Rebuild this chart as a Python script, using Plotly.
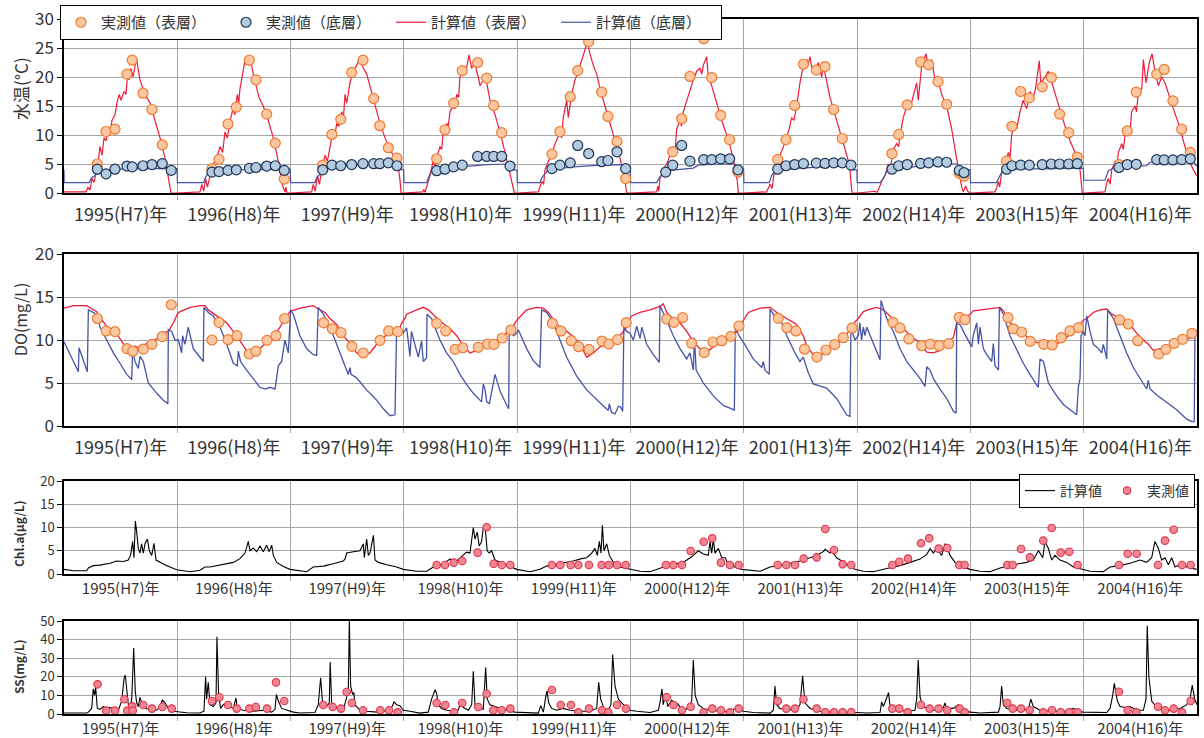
import plotly.graph_objects as go

JP = "Noto Sans CJK JP"
W, H = 1204, 738

# time values below are months elapsed since 1 January 1995
years = list(range(1995, 2005))
year_labels = ["1995(H7)年", "1996(H8)年", "1997(H9)年", "1998(H10)年", "1999(H11)年",
               "2000(H12)年", "2001(H13)年", "2002(H14)年", "2003(H15)年", "2004(H16)年"]

# ---------------- water temperature ----------------
temp_top_obs = [
    (3.53, 5.0), (4.45, 10.6), (5.40, 11.0), (6.67, 20.5), (7.23, 22.9), (8.37, 17.2), (9.32, 14.4), (10.41, 8.3),
    (15.67, 4.2), (16.42, 5.8), (17.37, 11.9), (18.25, 14.8), (19.63, 22.9), (20.33, 19.5), (21.47, 13.6), (22.38, 8.6), (23.33, 2.4),
    (27.40, 4.8), (28.38, 10.1), (29.31, 12.7), (30.47, 20.8), (31.67, 22.9), (32.80, 16.3), (33.44, 11.6), (34.35, 7.8), (35.27, 6.0),
    (39.47, 5.9), (40.35, 10.9), (41.27, 15.5), (42.18, 21.1), (43.81, 22.5), (44.77, 19.8), (45.51, 15.1), (46.36, 10.4),
    (51.68, 6.7), (52.53, 10.6), (53.62, 16.6), (54.41, 21.1), (55.57, 26.1), (56.95, 17.4), (57.61, 13.2), (58.57, 8.9), (59.49, 2.5),
    (64.47, 7.1), (65.42, 12.8), (66.30, 20.1), (67.75, 26.6), (68.60, 19.9), (69.55, 13.4), (70.50, 9.2), (71.38, 3.6),
    (75.59, 5.8), (76.47, 9.2), (77.39, 15.1), (78.32, 22.2), (79.68, 21.2), (80.60, 21.8), (81.52, 14.4), (82.43, 9.4),
    (87.69, 6.8), (88.40, 10.1), (89.31, 15.2), (90.73, 22.6), (91.58, 22.1), (92.57, 19.2), (93.49, 15.3), (94.82, 3.4), (95.32, 2.9),
    (99.84, 5.5), (100.40, 11.5), (101.32, 17.5), (102.24, 16.4), (103.61, 18.3), (104.57, 19.9), (105.45, 13.6), (106.41, 10.4), (107.32, 6.2),
    (111.73, 4.9), (112.61, 10.7), (113.57, 17.4), (115.73, 20.5), (116.53, 21.3), (117.45, 15.9), (118.38, 11.0), (119.29, 7.0),
]
temp_bot_obs = [
    (3.53, 4.1), (4.45, 3.3), (5.40, 4.1), (6.67, 4.65), (7.23, 4.5), (8.37, 4.7), (9.32, 4.9), (10.41, 5.05), (11.36, 3.9),
    (15.67, 3.6), (16.42, 3.7), (17.37, 3.9), (18.25, 4.0), (19.63, 4.25), (20.33, 4.4), (21.47, 4.65), (22.38, 4.7), (23.33, 3.9),
    (27.40, 4.0), (28.38, 4.8), (29.31, 4.7), (30.47, 4.9), (31.67, 5.05), (32.80, 5.05), (33.44, 5.05), (34.35, 5.2), (35.27, 4.7),
    (39.47, 3.85), (40.35, 4.1), (41.27, 4.5), (42.18, 4.8), (43.81, 6.3), (44.77, 6.3), (45.51, 6.3), (46.36, 6.3), (47.24, 4.65),
    (51.68, 4.2), (52.53, 4.8), (53.62, 5.2), (54.41, 8.2), (55.57, 6.8), (56.95, 5.4), (57.61, 5.6), (58.57, 7.1), (59.49, 4.2),
    (63.73, 3.6), (64.47, 4.8), (65.42, 8.2), (66.30, 5.5), (67.75, 5.75), (68.60, 5.75), (69.55, 5.9), (70.50, 5.9), (71.38, 4.0),
    (75.59, 4.1), (76.47, 4.7), (77.39, 4.9), (78.32, 5.05), (79.68, 5.15), (80.60, 5.1), (81.52, 5.2), (82.43, 5.2), (83.35, 4.8),
    (87.69, 4.1), (88.40, 4.7), (89.31, 4.9), (90.73, 5.1), (91.58, 5.2), (92.57, 5.35), (93.49, 5.3), (94.82, 3.9), (95.32, 3.5),
    (99.84, 4.1), (100.40, 4.7), (101.32, 4.8), (102.24, 4.8), (103.61, 4.9), (104.57, 5.0), (105.45, 5.0), (106.41, 5.0), (107.32, 5.05),
    (111.73, 4.4), (112.61, 4.9), (113.57, 4.95), (115.73, 5.75), (116.53, 5.7), (117.45, 5.7), (118.38, 5.75), (119.29, 5.9),
]
temp_top_calc = [
    (0, 0.2), (2.33, 0.2), (2.54, 1), (2.75, 0.5), (2.97, 2.5), (3.18, 1.8), (3.39, 3.5), (3.6, 5), (3.81, 8), (4.03, 6.5),
    (4.24, 9.5), (4.45, 9), (4.66, 11), (4.87, 10), (5.08, 12.5), (5.4, 13.5), (5.61, 15.5), (5.83, 17), (6.04, 16), (6.36, 17.5),
    (6.57, 17), (6.73, 20.5), (6.89, 19.5), (7.1, 21.5), (7.31, 20), (7.52, 22), (7.68, 23.2), (7.84, 21.5), (8.05, 19.5),
    (8.26, 18.5), (8.58, 17), (9.11, 15.5), (9.64, 12.5), (10.17, 9.5), (10.7, 6), (11.02, 3), (11.28, 1), (11.33, 0), (12.0, 0),
    (14.4, 0.2), (14.6, 1.5), (14.8, 0.3), (15.0, 2.5), (15.2, 1), (15.46, 3), (15.8, 5), (16.2, 6), (16.52, 8), (16.8, 7),
    (17.05, 10.5), (17.3, 9.5), (17.6, 12.5), (17.9, 14.5), (18.1, 13.5), (18.36, 17), (18.5, 15.5), (18.64, 18), (19.0, 21),
    (19.25, 23.5), (19.5, 22), (19.8, 22.5), (20.05, 20.5), (20.4, 18), (20.65, 16.5), (21.1, 15), (21.64, 12.5), (22.17, 9.5),
    (22.5, 7), (22.88, 4), (23.1, 1.5), (23.4, 0.2), (23.5, 1), (23.6, 0), (24, 0),
    (26.23, 0.2), (26.4, 1.5), (26.6, 0.3), (26.85, 3), (27.05, 1.5), (27.3, 4), (27.64, 6.5), (27.9, 5.5), (28.17, 8), (28.52, 11),
    (28.7, 10), (28.88, 12), (29.1, 11.5), (29.41, 14), (29.6, 13), (29.76, 17), (29.94, 15.5), (30.29, 19), (30.64, 21), (31.0, 22),
    (31.35, 23.5), (31.7, 21.5), (32.06, 20.5), (32.41, 18.5), (32.94, 15.5), (33.47, 12), (34.0, 9.5), (34.53, 7.5), (35.06, 6),
    (35.41, 4.5), (35.6, 2), (35.7, 0), (36, 0),
    (38.0, 0.2), (38.1, 0.6), (38.24, 0.1), (38.4, 1), (38.6, 2), (38.76, 3), (39.1, 5.5), (39.3, 4.5), (39.47, 6), (39.82, 8),
    (40.0, 7.5), (40.17, 10.5), (40.35, 10), (40.52, 12), (40.7, 11.5), (40.88, 14), (41.23, 15), (41.4, 14.5), (41.59, 17),
    (41.8, 16.5), (41.94, 20), (42.29, 21), (42.5, 20.5), (42.65, 22), (42.9, 23.8), (43.18, 21.5), (43.53, 22.5), (43.7, 21),
    (43.88, 20), (44.06, 18.5), (44.41, 19.5), (44.77, 19), (45.12, 16), (45.65, 13.5), (46.18, 10.5), (46.71, 7), (47.24, 3),
    (47.6, 0.5), (47.7, 0), (48, 0),
    (50.24, 0.2), (50.4, 1), (50.6, 2), (50.8, 1.5), (50.94, 4), (51.3, 5.5), (51.65, 6.5), (51.9, 8), (52.18, 9), (52.53, 10.5),
    (52.7, 9.5), (52.88, 13), (53.24, 16), (53.41, 13), (53.77, 17), (54.12, 19.5), (54.47, 21), (54.83, 23), (55.18, 25),
    (55.43, 26), (55.71, 24), (56.06, 22), (56.42, 20.5), (56.77, 18), (57.3, 15), (57.83, 12), (58.36, 9), (58.89, 6),
    (59.42, 2), (59.6, 0), (60, 0),
    (62.77, 0.2), (62.9, 1.2), (63.0, 0.3), (63.12, 2.5), (63.47, 4), (63.83, 5), (64.18, 6.5), (64.53, 8), (64.7, 7), (64.89, 11),
    (65.24, 12.5), (65.4, 11.5), (65.59, 14), (65.95, 16), (66.3, 18), (66.65, 19.5), (67.01, 21), (67.36, 21.5), (67.55, 20.5),
    (67.71, 22), (68.07, 23.5), (68.24, 20), (68.6, 18.5), (69.13, 15.5), (69.66, 12.5), (70.19, 10), (70.72, 7), (71.07, 4.5),
    (71.31, 2), (71.42, 0), (72, 0),
    (74.42, 0.2), (74.6, 0.8), (74.78, 1.5), (75.0, 0.8), (75.3, 4.5), (75.6, 5), (75.83, 6.5), (76.2, 8), (76.54, 9.5), (76.8, 11),
    (77.07, 13), (77.3, 12.5), (77.6, 15), (77.95, 19), (78.3, 22), (78.66, 23), (78.8, 22), (79.01, 23.5), (79.2, 21.5),
    (79.36, 21.5), (79.6, 20.5), (79.89, 22.5), (80.1, 21), (80.25, 20), (80.42, 22), (80.77, 19.5), (81.13, 16.5),
    (81.66, 13.5), (82.19, 10.5), (82.72, 7.5), (83.18, 5), (83.43, 0.5), (83.5, 0), (84, 0),
    (85.9, 0.3), (86.1, 0.1), (86.25, 0.5), (86.6, 2), (86.95, 3), (87.3, 5), (87.5, 4), (87.83, 7.5), (88.19, 8.5), (88.4, 8),
    (88.54, 10), (88.9, 13), (89.25, 15), (89.6, 14.5), (89.95, 17), (90.31, 19), (90.48, 16), (90.84, 22), (91.3, 24),
    (91.54, 21.5), (91.9, 23), (92.25, 19.5), (92.5, 20), (92.96, 17), (93.49, 15), (94.02, 11), (94.37, 7.5), (94.72, 4),
    (95.08, 1), (95.25, 0.2), (95.5, 1.2), (95.7, 0.3), (96, 0),
    (98.6, 0.2), (98.8, 1), (98.96, 2), (99.1, 1), (99.31, 3.5), (99.67, 5), (100.02, 7), (100.2, 6), (100.37, 10), (100.72, 12),
    (100.9, 11), (101.25, 14), (101.6, 16), (101.96, 14.5), (102.31, 17.5), (102.66, 16.5), (102.9, 18), (103.09, 20),
    (103.3, 22.8), (103.45, 19), (103.9, 20), (104.25, 21), (104.61, 19), (104.96, 17), (105.49, 14), (106.02, 11.5),
    (106.55, 9), (107.08, 7), (107.61, 4), (107.79, 0.5), (107.85, 0), (108, 0),
    (110.26, 0.2), (110.4, 1.5), (110.6, 2.5), (110.8, 1.5), (110.97, 4), (111.32, 5.5), (111.5, 4.5), (111.67, 7), (112.03, 8.5),
    (112.2, 7.5), (112.38, 10), (112.73, 11), (112.9, 10.5), (113.08, 14), (113.44, 15), (113.6, 14), (113.79, 17.5),
    (114.15, 18), (114.32, 23), (114.6, 19), (114.95, 22.5), (115.24, 24), (115.55, 21), (115.91, 18.5), (116.26, 20),
    (116.61, 19), (116.97, 17), (117.5, 14.5), (118.03, 12), (118.55, 9), (119.08, 6), (119.61, 4), (119.96, 3),
]
temp_bot_calc = [
    (0, 4.0), (0.02, 1.8), (2.68, 1.8), (2.9, 2.6), (3.28, 3.0), (3.8, 3.7), (4.34, 4.0), (5.58, 4.1), (9.1, 4.2), (11.98, 4.2),
    (12.01, 1.8), (14.8, 1.8), (14.93, 2.5), (15.28, 3.5), (15.81, 3.9), (17.9, 4.0), (23.95, 4.1),
    (24.01, 1.8), (26.58, 1.8), (26.76, 2.6), (27.28, 3.5), (27.99, 4.2), (30.29, 4.8), (33.82, 5.1), (35.6, 5.1), (35.77, 4.0), (35.98, 4.0),
    (36.01, 1.8), (38.41, 1.8), (38.58, 2.5), (38.76, 3.3), (39.12, 4.0), (40.17, 4.3), (42.65, 4.6), (44.77, 4.9), (47.24, 5.0), (47.6, 4.0), (47.98, 4.0),
    (48.01, 1.8), (50.41, 1.8), (50.6, 2.6), (51.12, 3.7), (51.82, 4.1), (53.94, 4.5), (56.77, 4.8), (59.24, 4.9), (59.6, 4.1), (59.98, 4.1),
    (60.01, 1.8), (62.77, 1.8), (63.12, 2.8), (63.65, 3.5), (64.18, 3.9), (66.65, 4.3), (67.18, 4.8), (69.48, 5.0), (71.07, 5.0), (71.42, 4.1), (71.98, 4.1),
    (72.01, 1.8), (74.7, 1.8), (74.95, 3.0), (75.3, 3.8), (76.18, 4.0), (77.95, 4.3), (81.48, 4.6), (83.25, 4.7), (83.4, 4.0), (83.98, 4.0),
    (84.01, 1.8), (86.43, 1.8), (86.78, 2.5), (87.14, 3.7), (87.84, 4.0), (90.31, 4.6), (93.49, 5.0), (94.55, 5.0), (94.9, 4.3), (95.98, 4.0),
    (96.01, 1.8), (98.78, 1.8), (99.13, 3.0), (99.49, 4.0), (100.19, 4.1), (107.61, 4.3), (107.96, 4.3),
    (108.01, 2.2), (110.26, 2.2), (110.6, 3.8), (111.14, 4.3), (114.67, 4.7), (115.0, 5.3), (119.61, 5.5), (119.96, 4.6),
]

# ---------------- dissolved oxygen ----------------
do_obs = [
    (3.53, 12.5), (4.47, 11.05), (5.40, 10.97), (6.67, 9.0), (7.28, 8.7), (8.40, 8.95), (9.32, 9.5), (10.41, 10.4), (11.36, 14.1),
    (15.67, 10.0), (16.42, 12.05), (17.37, 10.04), (18.32, 10.5), (19.63, 8.37), (20.33, 8.7), (21.50, 9.96), (22.45, 10.5), (23.37, 12.5),
    (27.50, 12.0), (28.42, 11.3), (29.34, 10.85), (30.50, 9.26), (31.70, 8.49), (33.47, 9.96), (34.39, 11.05), (35.34, 10.97),
    (39.47, 11.94), (40.43, 11.05), (41.41, 8.91), (42.23, 9.1), (43.88, 9.15), (44.87, 9.53), (45.54, 9.5), (46.42, 10.23), (47.34, 11.16),
    (51.72, 11.94), (52.64, 11.05), (53.73, 9.92), (54.51, 9.22), (55.60, 8.91), (56.98, 9.88), (57.72, 9.53), (58.64, 10.04), (59.55, 12.02),
    (63.83, 12.44), (64.61, 12.05), (65.53, 12.6), (66.48, 9.61), (67.81, 8.53), (68.74, 9.77), (69.66, 9.92), (70.64, 10.43), (71.49, 11.63),
    (75.65, 12.52), (76.57, 11.43), (77.53, 11.05), (78.43, 8.93), (79.75, 8.02), (80.70, 8.84), (81.63, 9.46), (82.54, 10.27), (83.46, 11.4),
    (87.80, 12.05), (88.54, 11.4), (89.49, 10.12), (90.84, 9.34), (91.75, 9.53), (92.70, 9.34), (93.70, 9.57), (94.82, 12.64), (95.42, 12.36),
    (99.98, 12.6), (100.54, 11.3), (101.43, 10.93), (102.34, 9.84), (103.76, 9.5), (104.67, 9.42), (105.62, 10.27), (106.54, 11.05), (107.46, 11.43),
    (111.80, 12.33), (112.72, 11.86), (113.72, 9.92), (115.94, 8.37), (116.71, 8.91), (117.59, 9.61), (118.48, 10.08), (119.47, 10.78),
]
do_top_calc = [
    (0, 13.7), (0.99, 14.0), (2.4, 14.0), (2.75, 13.8), (3.46, 13.3), (3.81, 12.6), (4.52, 11.6), (5.4, 11.0), (5.93, 10.2),
    (6.46, 9.3), (7.17, 8.8), (7.52, 9.3), (8.05, 9.0), (8.76, 9.6), (9.46, 9.9), (10.17, 10.4), (10.7, 10.9), (11.05, 11.0),
    (11.6, 12.0), (12.0, 13.0),
    (12.29, 13.3), (13.35, 13.8), (14.4, 14.0), (14.93, 14.0), (15.28, 13.5), (15.81, 13.1), (16.52, 12.5), (17.23, 12.0),
    (17.93, 11.0), (18.46, 10.2), (18.99, 9.3), (19.52, 8.5), (20.05, 8.6), (20.76, 9.0), (21.46, 9.8), (22.17, 10.4),
    (22.88, 11.5), (23.4, 12.5), (23.94, 13.3),
    (24.11, 13.4), (24.99, 13.7), (26.4, 14.0), (26.93, 13.6), (27.64, 13.2), (28.17, 12.5), (28.88, 11.8), (29.58, 10.5),
    (30.29, 9.6), (30.99, 8.5), (31.7, 8.2), (32.41, 8.5), (33.12, 9.5), (33.82, 10.3), (34.53, 10.9), (35.41, 11.0),
    (35.77, 12.0), (36.1, 12.5),
    (36.29, 13.0), (37.35, 13.5), (38.05, 13.8), (38.58, 13.5), (39.11, 12.9), (39.82, 12.2), (40.88, 11.3), (41.59, 10.5),
    (42.29, 9.3), (43.0, 8.5), (43.7, 8.8), (44.41, 9.2), (45.12, 9.5), (45.83, 10.0), (46.53, 10.6), (47.24, 11.0), (47.77, 12.0),
    (48.12, 12.5), (49.0, 13.5), (50.06, 13.8), (50.76, 13.7), (51.3, 13.2), (51.82, 12.4), (52.53, 11.4), (53.24, 11.0),
    (53.94, 10.4), (54.65, 9.5), (55.36, 8.0), (56.06, 8.5), (56.77, 9.2), (57.48, 9.5), (58.18, 9.7), (58.89, 10.5),
    (59.6, 11.5), (59.95, 12.5),
    (60.13, 12.8), (61.0, 13.2), (62.07, 13.5), (63.12, 13.9), (63.47, 14.2), (63.83, 13.2), (64.53, 12.5), (65.24, 12.0),
    (65.95, 11.0), (66.66, 9.8), (67.36, 9.0), (68.07, 8.6), (68.77, 9.2), (69.48, 9.6), (70.19, 10.0), (70.9, 10.5),
    (71.43, 11.2), (71.96, 12.3),
    (72.48, 13.2), (73.72, 13.7), (74.78, 13.8), (75.49, 13.2), (76.55, 12.5), (77.6, 11.8), (78.3, 10.5), (78.7, 9.2),
    (79.36, 8.3), (79.89, 8.1), (80.77, 8.6), (81.83, 9.6), (82.54, 10.2), (83.24, 11.2), (83.77, 12.1),
    (84.13, 12.5), (84.66, 13.3), (85.37, 13.6), (86.07, 13.8), (86.78, 13.5), (87.49, 12.8), (88.19, 12.0), (88.9, 11.3),
    (89.96, 10.2), (90.67, 9.7), (91.38, 8.6), (92.08, 8.5), (92.79, 8.8), (93.49, 9.5), (94.2, 10.3), (94.55, 12.0),
    (95.26, 12.5), (95.96, 13.0),
    (96.31, 13.4), (97.72, 13.6), (99.14, 13.8), (99.49, 13.4), (100.19, 12.0), (101.25, 11.2), (102.31, 10.0), (103.37, 9.6),
    (104.43, 9.2), (105.14, 9.5), (105.84, 10.0), (106.55, 10.6), (107.26, 11.2), (107.96, 12.3),
    (108.32, 12.5), (109.02, 13.2), (109.73, 13.5), (110.44, 13.6), (110.97, 13.0), (111.85, 12.5), (112.9, 11.8),
    (113.6, 10.8), (114.31, 10.0), (114.84, 9.5), (115.37, 8.8), (116.08, 9.0), (116.79, 8.8), (117.5, 9.5), (118.2, 9.8),
    (118.91, 10.0), (119.61, 10.5), (120, 10.8),
]
do_bot_calc = [
    (0, 9.8), (1.52, 6.3), (1.59, 9.1), (2.47, 6.3), (2.58, 13.5), (3.46, 13.0), (3.81, 11.5), (4.52, 10.0), (5.23, 8.5),
    (5.93, 7.3), (6.64, 6.0), (7.17, 5.4), (7.27, 8.8), (7.52, 7.5), (7.7, 7.0), (7.87, 6.7), (8.05, 8.1), (8.4, 7.5),
    (8.93, 5.0), (9.82, 3.8), (10.52, 3.0), (10.88, 2.7), (11.0, 2.6), (11.05, 11.2), (11.4, 11.0), (11.76, 10.0),
    (12.11, 10.0), (12.46, 8.5), (12.56, 10.5), (12.81, 9.5), (13.16, 11.5), (13.69, 9.0), (14.4, 8.0), (14.75, 7.5),
    (14.82, 13.8), (15.28, 13.2), (15.81, 12.8), (16.52, 11.5), (17.23, 9.5), (17.93, 7.3), (18.36, 7.0), (18.46, 8.7),
    (18.7, 7.5), (18.99, 7.0), (19.34, 6.5), (20.05, 5.5), (20.76, 4.5), (21.29, 4.3), (21.82, 4.5), (22.35, 4.3),
    (22.7, 7.0), (23.05, 7.5), (23.4, 10.0), (23.76, 8.5), (24.0, 13.5),
    (24.29, 13.0), (24.99, 10.5), (25.69, 9.0), (26.4, 8.3), (26.76, 8.2), (26.93, 13.8), (27.46, 13.0), (28.17, 11.5),
    (28.88, 9.5), (29.58, 7.5), (30.11, 6.0), (30.29, 6.8), (30.4, 6.0), (30.99, 5.6), (32.05, 4.2), (33.12, 3.0),
    (33.82, 2.0), (34.53, 1.2), (35.06, 1.3), (35.23, 11.5), (35.58, 11.3), (35.93, 10.8),
    (36.29, 11.4), (36.5, 9.5), (36.64, 8.1), (36.8, 11.0), (37.2, 9.5), (37.52, 8.0), (37.87, 9.9), (38.05, 7.5),
    (38.4, 7.9), (38.45, 13.0), (38.93, 12.5), (39.12, 12.0), (39.82, 10.0), (40.52, 8.5), (41.23, 7.5), (41.94, 6.0),
    (42.65, 4.8), (43.35, 3.8), (44.23, 2.8), (44.41, 4.9), (44.6, 4.2), (44.77, 2.8), (45.05, 2.6), (45.65, 6.0),
    (46.2, 4.0), (46.95, 2.3), (47.1, 2.0), (47.16, 11.5), (47.6, 10.5), (47.96, 10.8),
    (48.12, 11.2), (49.0, 9.0), (49.7, 7.6), (50.24, 7.0), (50.41, 6.8), (50.59, 13.5), (51.12, 13.2), (51.82, 12.0),
    (52.53, 10.0), (53.24, 8.0), (54.3, 5.8), (55.36, 4.2), (56.77, 2.7), (57.65, 1.8), (57.76, 2.6), (57.98, 1.6),
    (58.36, 1.4), (58.72, 2.3), (58.96, 2.2), (59.17, 1.7), (59.3, 11.5), (59.6, 11.0), (59.95, 10.8),
    (60.3, 10.0), (60.66, 11.6), (61.01, 10.2), (61.2, 11.5), (61.71, 9.5), (62.42, 8.3), (63.05, 7.4), (63.12, 14.0),
    (63.47, 13.2), (63.83, 12.3), (64.53, 10.5), (65.24, 9.0), (65.95, 7.8), (66.3, 8.5), (66.66, 6.5), (66.77, 10.3),
    (66.95, 6.5), (67.71, 5.0), (68.77, 3.5), (69.83, 2.4), (70.9, 1.9), (71.0, 1.8), (71.1, 11.5), (71.49, 10.5),
    (72.1, 9.5), (73.0, 7.8), (73.9, 6.8), (74.07, 7.5), (74.25, 6.5), (74.7, 6.0), (74.78, 13.6), (75.13, 13.0),
    (75.83, 12.5), (76.55, 10.5), (77.42, 8.5), (77.95, 7.5), (78.3, 8.0), (78.83, 6.2), (79.36, 4.9), (80.77, 4.4),
    (81.83, 3.2), (82.89, 1.3), (83.24, 1.1), (83.35, 11.4), (83.77, 10.0),
    (84.13, 10.5), (84.3, 12.0), (84.48, 10.0), (84.66, 11.5), (84.83, 10.5), (85.02, 11.5), (85.37, 10.5), (85.9, 9.0),
    (86.43, 7.7), (86.53, 14.6), (87.14, 12.5), (87.84, 11.0), (88.54, 9.0), (89.25, 7.5), (89.96, 6.5), (90.67, 5.5),
    (91.2, 4.6), (91.38, 6.9), (91.73, 6.5), (92.08, 5.5), (92.79, 4.3), (93.49, 3.2), (94.2, 1.7), (94.49, 1.5),
    (94.55, 11.9), (94.9, 11.8), (95.26, 11.0), (95.78, 10.0), (96.14, 9.2),
    (96.3, 10.5), (96.67, 12.0), (96.85, 9.5), (97.02, 11.5), (97.37, 9.0), (97.73, 8.3), (98.26, 7.5), (98.43, 9.6),
    (98.6, 7.0), (98.97, 6.5), (99.07, 13.8), (99.49, 13.0), (100.19, 10.5), (100.9, 8.8), (101.6, 7.3), (102.31, 6.0),
    (103.19, 4.5), (103.37, 7.8), (103.73, 7.5), (104.26, 5.0), (105.14, 3.5), (105.84, 2.5), (106.73, 1.8),
    (107.26, 1.3), (107.43, 4.5), (107.61, 5.5), (107.72, 10.5), (107.96, 11.0),
    (108.14, 10.5), (108.32, 12.8), (108.67, 11.0), (109.02, 9.5), (109.55, 9.0), (109.9, 8.5), (110.08, 9.5),
    (110.44, 7.8), (110.54, 13.5), (111.14, 12.5), (111.85, 10.5), (112.55, 8.5), (113.26, 6.8), (113.96, 5.5),
    (114.67, 4.3), (114.84, 5.3), (115.03, 4.3), (115.74, 3.6), (116.79, 2.8), (117.85, 1.9), (118.91, 0.8),
    (119.44, 0.5), (119.71, 0.5), (119.78, 10.7), (120, 10.8),
]

# ---------------- chlorophyll-a ----------------
chl_obs = [
    (39.47, 1.94), (40.35, 1.94), (41.27, 2.44), (42.18, 2.8), (43.81, 4.59), (44.77, 10.04), (45.51, 2.22), (46.39, 1.94), (47.27, 1.94),
    (51.68, 1.94), (52.56, 1.94), (53.66, 1.94), (54.47, 1.94), (55.60, 1.94), (56.95, 1.94), (57.69, 1.94), (58.57, 1.94), (59.49, 1.94),
    (63.76, 1.94), (64.53, 1.94), (65.45, 1.94), (66.37, 4.95), (67.75, 6.95), (68.66, 7.67), (69.58, 2.44), (70.54, 1.94), (71.46, 1.94),
    (75.59, 1.94), (76.50, 1.94), (77.42, 1.94), (78.34, 3.3), (79.72, 3.58), (80.63, 9.68), (81.55, 5.16), (82.47, 2.08), (83.38, 1.94),
    (87.73, 1.94), (88.47, 2.65), (89.39, 3.3), (90.76, 6.6), (91.64, 7.67), (92.64, 5.45), (93.55, 5.59), (94.82, 1.94), (95.39, 1.94),
    (99.91, 1.94), (100.48, 1.94), (101.36, 5.38), (102.31, 3.58), (103.72, 7.17), (104.61, 9.89), (105.56, 4.59), (106.47, 4.8), (107.36, 1.94),
    (111.73, 1.94), (112.66, 4.37), (113.61, 4.37), (115.87, 1.94), (116.61, 7.17), (117.53, 9.53), (118.41, 1.94), (119.33, 1.94),
]
chl_calc = [
    (0, 1.0), (0.99, 0.7), (2.4, 0.7), (2.58, 1.3), (3.1, 1.8), (3.81, 1.9), (4.87, 2.3), (5.58, 2.8), (6.28, 2.7), (6.81, 3.0),
    (7.05, 4.0), (7.27, 7.0), (7.41, 3.5), (7.56, 11.4), (7.7, 9.0), (7.87, 5.5), (8.05, 4.5), (8.22, 6.5), (8.4, 4.5),
    (8.58, 6.5), (8.83, 7.5), (9.04, 5.0), (9.29, 4.0), (9.53, 6.6), (9.75, 3.0), (10.17, 2.5), (10.88, 1.8), (11.23, 1.5), (11.93, 0.9),
    (12.29, 0.8), (13.35, 0.5), (14.4, 0.8), (14.93, 1.5), (15.46, 1.5), (16.52, 2.0), (17.93, 2.5), (18.64, 3.3), (19.17, 4.5),
    (19.52, 7.0), (19.7, 5.0), (20.05, 5.6), (20.4, 4.8), (20.76, 6.0), (21.1, 4.8), (21.46, 6.2), (21.74, 4.8), (22.0, 6.2),
    (22.17, 4.0), (22.53, 2.5), (23.23, 1.6), (23.94, 1.0),
    (24.65, 0.8), (25.71, 0.5), (26.4, 1.5), (27.46, 1.7), (28.52, 2.2), (29.58, 2.8), (29.76, 3.2), (29.94, 4.5), (30.64, 4.8),
    (31.35, 5.0), (31.7, 6.5), (31.81, 3.5), (32.06, 7.5), (32.23, 4.0), (32.41, 4.5), (32.77, 8.3), (32.94, 3.0), (33.3, 2.5),
    (34.18, 2.0), (35.23, 1.5), (35.93, 1.0),
    (37.35, 0.6), (38.41, 0.6), (39.12, 1.5), (40.17, 2.2), (40.88, 3.2), (41.59, 2.8), (42.12, 3.8), (42.65, 4.7), (43.0, 4.5),
    (43.35, 10.0), (43.53, 7.5), (43.77, 9.0), (43.98, 6.0), (44.23, 7.0), (44.41, 10.0), (44.59, 10.5), (44.82, 5.0),
    (45.03, 4.5), (45.29, 5.0), (45.65, 3.0), (46.18, 2.5), (47.24, 1.5), (47.95, 1.0),
    (49.36, 0.5), (50.41, 1.0), (51.12, 1.7), (52.53, 2.2), (53.94, 2.8), (54.83, 3.3), (55.36, 3.5), (55.89, 4.5), (56.24, 5.5),
    (56.49, 4.0), (56.7, 7.0), (56.88, 4.5), (57.02, 10.5), (57.19, 5.0), (57.48, 6.5), (57.76, 4.0), (58.18, 2.5), (58.89, 1.5), (59.95, 1.0),
    (61.01, 0.6), (62.07, 0.5), (63.12, 1.3), (64.18, 2.0), (65.59, 2.5), (66.47, 3.7), (67.18, 5.0), (67.71, 4.3), (68.24, 4.0),
    (68.42, 7.0), (68.6, 4.5), (68.77, 7.5), (68.95, 4.5), (69.31, 5.5), (69.66, 3.5), (70.02, 3.5), (70.37, 2.0), (71.07, 1.5), (71.78, 1.0),
    (73.72, 0.6), (74.78, 1.5), (76.18, 2.0), (77.95, 2.8), (79.01, 3.5), (79.72, 4.0), (80.42, 4.8), (80.6, 5.3), (81.13, 4.5),
    (81.3, 5.0), (81.83, 3.5), (82.36, 2.8), (83.07, 1.8), (83.77, 1.0),
    (84.66, 0.6), (85.72, 0.5), (87.14, 1.2), (88.54, 1.8), (89.6, 2.5), (90.67, 3.2), (91.38, 4.2), (91.73, 5.5), (92.08, 4.5),
    (92.43, 5.5), (92.96, 4.0), (93.31, 6.5), (93.49, 6.0), (93.84, 4.0), (94.37, 2.5), (95.26, 1.5), (95.96, 1.0),
    (97.02, 0.6), (98.08, 0.5), (99.14, 1.3), (100.55, 2.0), (101.96, 2.5), (102.66, 3.0), (103.2, 5.0), (103.37, 4.5),
    (103.66, 3.5), (103.9, 7.0), (104.26, 5.5), (104.61, 3.0), (104.96, 4.0), (105.49, 3.0), (106.2, 2.5), (106.9, 1.5), (107.79, 1.0),
    (108.67, 0.6), (110.08, 0.5), (110.78, 1.5), (111.85, 1.8), (112.9, 2.3), (113.96, 3.0), (114.67, 2.5), (115.2, 3.5),
    (115.55, 7.0), (115.91, 5.5), (116.26, 3.0), (116.61, 3.5), (116.97, 2.0), (117.32, 3.5), (117.67, 1.5), (118.2, 2.0),
    (118.91, 1.5), (119.96, 1.0),
]

# ---------------- suspended solids ----------------
ss_obs = [
    (3.56, 15.95), (4.47, 1.8), (5.40, 1.8), (6.39, 7.9), (6.70, 1.8), (7.23, 4.1), (7.28, 1.8), (8.40, 4.8), (9.32, 2.9), (10.41, 3.8), (11.41, 2.9),
    (15.67, 7.0), (16.45, 9.0), (17.37, 4.8), (18.29, 2.9), (19.63, 2.9), (20.33, 3.8), (21.50, 2.9), (22.45, 17.0), (23.33, 7.0),
    (27.46, 4.8), (28.46, 3.8), (29.34, 2.9), (29.94, 11.8), (30.50, 5.9), (31.67, 2.0), (33.50, 2.0), (34.42, 2.0), (35.34, 0.9),
    (39.47, 5.9), (40.38, 4.8), (41.30, 0.9), (42.18, 5.9), (43.88, 3.8), (44.77, 10.9), (45.47, 2.0), (46.36, 2.0), (47.27, 2.9),
    (51.68, 12.9), (52.61, 4.8), (53.70, 4.8), (54.47, 0.9), (55.60, 2.9), (56.98, 2.0), (57.65, 0.9), (58.57, 4.8), (59.52, 2.9),
    (63.83, 9.0), (64.57, 4.8), (65.45, 2.0), (66.37, 3.9), (67.75, 0.9), (68.66, 2.9), (69.58, 2.0), (70.54, 0.9), (71.46, 2.9),
    (75.59, 7.0), (76.50, 2.9), (77.42, 2.9), (78.32, 7.9), (79.72, 2.9), (80.63, 0.9), (81.55, 0.9), (82.47, 0.9), (83.38, 0.9),
    (87.73, 2.9), (88.47, 2.9), (89.35, 0.9), (90.76, 4.8), (91.68, 2.9), (92.64, 2.9), (93.55, 2.0), (94.86, 2.9), (95.39, 0.9),
    (99.91, 5.9), (100.48, 2.9), (101.36, 2.9), (102.28, 2.0), (103.72, 0.9), (104.64, 2.0), (105.56, 0.9), (106.47, 0.9), (107.36, 0.9),
    (111.73, 12.0), (112.66, 2.0), (113.57, 0.9), (115.87, 3.9), (116.61, 2.0), (117.53, 2.9), (118.41, 0.9), (119.33, 7.0),
]
ss_calc = [
    (0, 0.5), (2.4, 0.5), (2.58, 1.0), (2.93, 3.0), (3.1, 13.5), (3.24, 10.0), (3.35, 14.5), (3.53, 3.0), (3.81, 2.5), (4.17, 4.0),
    (4.52, 2.5), (4.87, 3.5), (5.23, 2.5), (5.76, 2.0), (6.11, 7.0), (6.36, 19.0), (6.49, 21.0), (6.64, 15.0), (6.81, 5.0),
    (6.99, 3.0), (7.17, 8.0), (7.38, 35.5), (7.55, 12.0), (7.7, 6.0), (7.87, 4.0), (8.05, 9.0), (8.22, 6.0), (8.58, 3.0),
    (9.11, 2.5), (9.82, 2.0), (10.17, 4.0), (10.41, 7.5), (10.7, 6.0), (11.05, 3.0), (11.58, 1.5), (12.29, 1.0),
    (12.99, 0.7), (14.4, 0.5), (14.82, 1.5), (15.0, 20.0), (15.1, 8.0), (15.28, 17.0), (15.46, 5.0), (15.81, 4.0), (16.1, 6.0),
    (16.2, 41.5), (16.38, 10.0), (16.59, 3.0), (16.87, 5.0), (17.23, 6.0), (17.58, 4.0), (17.93, 3.0), (18.21, 8.5), (18.36, 3.0),
    (18.99, 2.0), (20.05, 1.5), (21.11, 2.0), (22.0, 1.0), (22.35, 2.5), (22.49, 10.5), (22.7, 7.0), (23.05, 3.0), (23.58, 2.0), (24.29, 1.0),
    (24.99, 0.5), (26.58, 0.8), (26.93, 5.0), (27.18, 19.5), (27.4, 5.0), (27.81, 4.0), (28.1, 6.0), (28.19, 28.0), (28.35, 6.0),
    (28.88, 3.0), (29.58, 2.0), (29.94, 9.5), (30.11, 12.5), (30.22, 50.0), (30.36, 15.0), (30.57, 10.5), (30.71, 11.5),
    (30.79, 5.0), (31.35, 2.0), (32.05, 1.5), (33.12, 1.0), (33.82, 1.5), (34.53, 1.5), (34.96, 6.5), (35.23, 5.0), (35.58, 4.5),
    (35.93, 2.0), (36.64, 1.5),
    (37.69, 0.5), (38.58, 1.0), (38.93, 8.0), (39.3, 13.0), (39.47, 11.0), (39.64, 5.0), (39.99, 3.0), (40.52, 2.0), (41.23, 1.5),
    (41.76, 2.0), (41.94, 5.5), (42.3, 3.5), (42.83, 2.0), (43.18, 5.0), (43.35, 23.0), (43.53, 5.0), (44.06, 3.0), (44.41, 2.5),
    (44.66, 25.0), (44.83, 8.0), (45.12, 5.0), (45.65, 4.0), (46.18, 3.0), (46.89, 2.0), (47.77, 1.0),
    (48.64, 0.8), (50.24, 0.5), (50.49, 4.5), (50.77, 1.0), (51.05, 10.0), (51.16, 12.5), (51.33, 6.0), (51.65, 3.0), (52.18, 2.0),
    (52.88, 3.0), (53.59, 2.0), (54.65, 1.5), (55.71, 1.5), (56.42, 3.0), (56.63, 17.0), (56.84, 8.0), (57.19, 3.0), (57.65, 2.0),
    (57.93, 5.0), (58.11, 32.0), (58.36, 15.0), (58.72, 8.0), (59.24, 5.0), (59.95, 2.0),
    (60.66, 1.5), (62.07, 0.8), (62.95, 2.0), (63.12, 6.0), (63.33, 13.5), (63.47, 5.0), (63.73, 11.0), (63.94, 4.0), (64.36, 7.5),
    (64.65, 6.0), (65.0, 5.5), (65.36, 3.0), (65.89, 2.5), (66.24, 4.0), (66.48, 7.0), (66.65, 29.0), (66.85, 10.0), (67.18, 5.0),
    (67.71, 3.0), (68.42, 2.0), (69.48, 1.5), (70.54, 1.0), (71.07, 3.0), (71.42, 2.5), (71.96, 1.5),
    (73.0, 0.8), (74.78, 0.5), (75.13, 2.0), (75.3, 15.0), (75.48, 5.0), (75.83, 3.0), (76.54, 2.5), (77.6, 2.0), (77.95, 5.0),
    (78.23, 20.5), (78.48, 6.0), (79.01, 3.0), (79.72, 2.0), (80.07, 1.5), (81.48, 1.0), (82.89, 1.0), (83.95, 0.8),
    (85.02, 0.5), (86.43, 0.8), (86.6, 6.5), (86.78, 4.0), (87.05, 7.5), (87.33, 11.5), (87.49, 4.0), (87.84, 2.5), (89.25, 1.5),
    (90.13, 2.0), (90.31, 8.0), (90.47, 29.0), (90.67, 9.0), (90.98, 4.0), (91.73, 2.0), (92.44, 2.0), (93.14, 3.5), (93.31, 6.0),
    (93.49, 3.0), (94.2, 3.0), (94.72, 5.0), (95.26, 3.0), (95.96, 1.0),
    (97.02, 0.5), (98.96, 1.0), (99.14, 4.0), (99.31, 15.0), (99.49, 5.0), (99.84, 3.0), (100.9, 2.0), (102.13, 2.5), (102.4, 8.0),
    (102.66, 4.0), (103.37, 2.0), (104.78, 1.5), (106.2, 1.5), (106.9, 3.0), (107.43, 1.5), (107.96, 1.0),
    (109.02, 0.8), (110.44, 0.8), (110.79, 3.0), (111.07, 10.0), (111.24, 16.5), (111.39, 11.0), (111.57, 7.0), (111.85, 4.0),
    (112.38, 3.5), (112.9, 4.0), (113.61, 2.0), (114.32, 2.0), (114.6, 8.0), (114.73, 47.5), (114.9, 20.0), (115.2, 7.0),
    (115.74, 3.5), (116.44, 2.0), (117.16, 2.0), (118.21, 3.0), (118.91, 5.0), (119.25, 8.0), (119.5, 15.5), (119.75, 8.0), (120, 5.0),
]


def xy(pairs):
    return [p[0] for p in pairs], [p[1] for p in pairs]


RED = "#EE1C3A"
NAVY = "#4653A6"
GRID = "#A6A6A6"
TXT = "#333333"
ORANGE_OBS = dict(size=10, color="#FBC7A0", line=dict(color="#EE7B30", width=1.2))
BLUE_OBS = dict(size=10, color="#B3CBE0", line=dict(color="#1F3350", width=1.2))
PINK_OBS = dict(size=7.5, color="#EE8792", line=dict(color="#E33049", width=1.1))

fig = go.Figure()

# panel 1 : water temperature
x, y = xy(temp_top_calc)
fig.add_trace(go.Scatter(x=x, y=y, mode="lines", name="計算値（表層）", line=dict(color=RED, width=1.2),
                         xaxis="x", yaxis="y", legend="legend", legendrank=3))
x, y = xy(temp_bot_calc)
fig.add_trace(go.Scatter(x=x, y=y, mode="lines", name="計算値（底層）", line=dict(color=NAVY, width=1.2),
                         xaxis="x", yaxis="y", legend="legend", legendrank=4))
x, y = xy(temp_top_obs)
fig.add_trace(go.Scatter(x=x, y=y, mode="markers", name="実測値（表層）", marker=ORANGE_OBS,
                         xaxis="x", yaxis="y", legend="legend", legendrank=1))
x, y = xy(temp_bot_obs)
fig.add_trace(go.Scatter(x=x, y=y, mode="markers", name="実測値（底層）", marker=BLUE_OBS,
                         xaxis="x", yaxis="y", legend="legend", legendrank=2))

# panel 2 : dissolved oxygen
x, y = xy(do_top_calc)
fig.add_trace(go.Scatter(x=x, y=y, mode="lines", line=dict(color=RED, width=1.3), showlegend=False,
                         xaxis="x2", yaxis="y2"))
x, y = xy(do_bot_calc)
fig.add_trace(go.Scatter(x=x, y=y, mode="lines", line=dict(color=NAVY, width=1.3), showlegend=False,
                         xaxis="x2", yaxis="y2"))
x, y = xy(do_obs)
fig.add_trace(go.Scatter(x=x, y=y, mode="markers", marker=ORANGE_OBS, showlegend=False,
                         xaxis="x2", yaxis="y2"))

# panel 3 : chlorophyll-a
x, y = xy(chl_calc)
fig.add_trace(go.Scatter(x=x, y=y, mode="lines", name="計算値", line=dict(color="black", width=1.1),
                         xaxis="x3", yaxis="y3", legend="legend2"))
x, y = xy(chl_obs)
fig.add_trace(go.Scatter(x=x, y=y, mode="markers", name="実測値", marker=PINK_OBS,
                         xaxis="x3", yaxis="y3", legend="legend2"))

# panel 4 : suspended solids
x, y = xy(ss_calc)
fig.add_trace(go.Scatter(x=x, y=y, mode="lines", line=dict(color="black", width=1.1), showlegend=False,
                         xaxis="x4", yaxis="y4"))
x, y = xy(ss_obs)
fig.add_trace(go.Scatter(x=x, y=y, mode="markers", marker=PINK_OBS, showlegend=False,
                         xaxis="x4", yaxis="y4"))

X_DOM = [64 / W, 1197 / W]
PANELS = [(19, 193), (254, 426), (481, 574), (621, 714)]


def ydom(top, bottom):
    return [1 - bottom / H, 1 - top / H]


def xaxis_cfg(anchor, size, standoff):
    return dict(domain=X_DOM, anchor=anchor, range=[0, 120], tickmode="array", automargin=False,
                tickvals=[12 * i + 6 for i in range(len(years))], ticktext=year_labels, ticks="",
                showgrid=False, zeroline=False, showline=True, linecolor="black", linewidth=1.5, mirror=True,
                tickfont=dict(family=JP, size=size, color=TXT), ticklabelstandoff=standoff,
                minor=dict(tickmode="array", tickvals=[12 * i for i in range(1, len(years))], showgrid=True,
                           gridcolor=GRID, gridwidth=1, ticks="outside", ticklen=5, tickcolor=GRID))


def yaxis_cfg(anchor, dom, rng, dtick, size):
    return dict(domain=dom, anchor=anchor, range=rng, dtick=dtick, tick0=0, ticks="outside", ticklen=5,
                automargin=False, tickcolor="black", showgrid=True, gridcolor=GRID, gridwidth=1, zeroline=False,
                showline=True, linecolor="black", linewidth=1.5, mirror=True,
                tickfont=dict(family=JP, size=size, color=TXT))


fig.update_layout(
    template="none",
    width=W, height=H, margin=dict(l=0, r=0, t=0, b=0, pad=0, autoexpand=False),
    paper_bgcolor="white", plot_bgcolor="white",
    xaxis=xaxis_cfg("y", 18, 5), yaxis=yaxis_cfg("x", ydom(*PANELS[0]), [0, 30], 5, 17),
    xaxis2=xaxis_cfg("y2", 18, 5), yaxis2=yaxis_cfg("x2", ydom(*PANELS[1]), [0, 20], 5, 17),
    xaxis3=xaxis_cfg("y3", 15, 0), yaxis3=yaxis_cfg("x3", ydom(*PANELS[2]), [0, 20], 5, 13),
    xaxis4=xaxis_cfg("y4", 15, 0), yaxis4=yaxis_cfg("x4", ydom(*PANELS[3]), [0, 50], 10, 13),
    legend=dict(x=60 / W, y=1 - 5 / H, xanchor="left", yanchor="top", orientation="h",
                bgcolor="white", bordercolor="black", borderwidth=1, font=dict(family=JP, size=15, color=TXT),
                entrywidth=120, itemwidth=30, traceorder="normal"),
    legend2=dict(x=1019 / W, y=1 - 474 / H, xanchor="left", yanchor="top", orientation="h",
                 bgcolor="white", bordercolor="black", borderwidth=1, font=dict(family=JP, size=14, color=TXT),
                 itemwidth=30),
    showlegend=True,
)

titles = [("水温(°C)", 20, 89, 17, False), ("DO(mg/L)", 20, 320, 16, False),
          ("Chl.a(μg/L)", 18, 534, 12, True), ("SS(mg/L)", 18, 667, 12, True)]
for text, px, py, size, bold in titles:
    fig.add_annotation(text=f"<b>{text}</b>" if bold else text, x=px / W, y=1 - py / H, xref="paper", yref="paper",
                       textangle=-90, showarrow=False, xanchor="center", yanchor="middle",
                       font=dict(family=JP, size=size, color=TXT))

fig.write_html("out.html")
